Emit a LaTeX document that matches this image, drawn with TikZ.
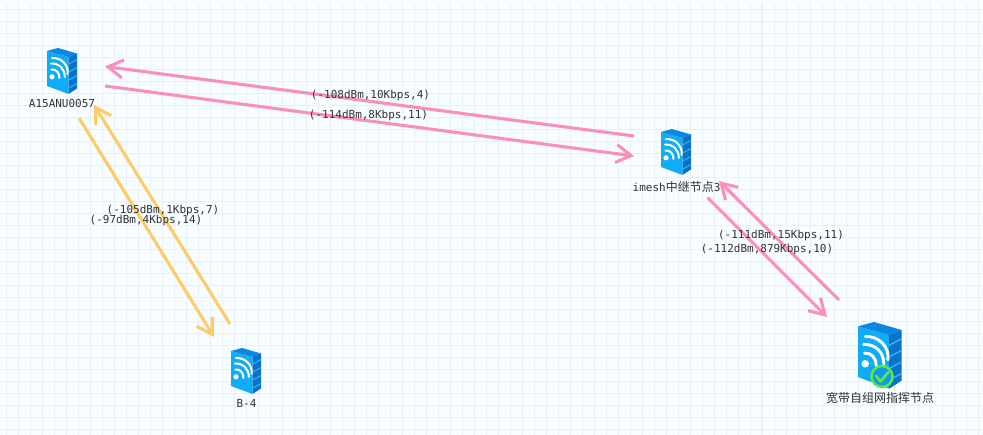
\documentclass[tikz,border=0pt]{standalone}
\usepackage{fontspec}
\setmonofont{DejaVu Sans Mono}
\newfontfamily\cjkfont{Noto Sans CJK SC}
\usetikzlibrary{arrows.meta}
\definecolor{bgpaper}{HTML}{F8FEFF}
\definecolor{gridline}{HTML}{E9EEFD}
\definecolor{gridmajor}{HTML}{E6F0FC}
\definecolor{linkpink}{HTML}{FB8FBB}
\definecolor{linkyellow}{HTML}{FECB66}
\definecolor{srvleft}{HTML}{0FADF7}
\definecolor{srvtop}{HTML}{0C86E0}
\definecolor{srvright}{HTML}{0A72C8}
\definecolor{srvband}{HTML}{3AAEF2}
\definecolor{badge}{HTML}{62E83A}
\definecolor{txt}{HTML}{333333}
\tikzset{
  x=1pt,y=-1pt,
  pinklink/.style={draw=linkpink,line width=3.1pt,-{Straight Barb[length=15pt,width=18pt,line width=3.1pt]}},
  yellowlink/.style={draw=linkyellow,line width=3.1pt,-{Straight Barb[length=15pt,width=18pt,line width=3.1pt]}},
  linklabel/.style={font=\ttfamily\fontsize{11}{11}\selectfont,text=txt,inner sep=0pt,anchor=center},
  nodelabel/.style={font=\ttfamily\fontsize{11}{11}\selectfont,text=txt,inner sep=0pt,anchor=center},
  pics/server/.style={code={
    \fill[srvleft] (0,3) -- (21.5,9) -- (21.5,46) -- (0,38) -- cycle;
    \fill[srvtop] (0,3) -- (11,0) -- (30,5.5) -- (21.5,9) -- cycle;
    \fill[srvright] (21.5,9) -- (30,5.5) -- (30,40.5) -- (21.5,46) -- cycle;
    \foreach \yy in {15.5,23.5,31.5,39.5}
      \fill[srvband] (21.5,\yy) -- (30,\yy-4.5) -- (30,\yy-3.4) -- (21.5,\yy+1.2) -- cycle;
    \fill[white] (5,28.8) circle (2.6);
    \draw[white,line width=#1,line cap=round] (4.4,21.5) .. controls (9,21) and (12.5,24.5) .. (12.5,30);
    \draw[white,line width=#1,line cap=round] (3.8,15.5) .. controls (12,15) and (18,21) .. (17.8,29);
    \draw[white,line width=#1,line cap=round] (5,10) .. controls (14,9.5) and (22,17) .. (20.6,26);
  }},
  okbadge/.style={draw=badge,line width=2.4pt},
}
\begin{document}
\begin{tikzpicture}
\useasboundingbox (0,0) rectangle (983,435);
\fill[bgpaper] (0,0) rectangle (983,435);
\foreach \gx in {6,18,...,982} \draw[gridline,line width=1pt] (\gx,3) -- (\gx,435);
\foreach \gy in {10,22,...,434} \draw[gridline,line width=1pt] (0,\gy) -- (983,\gy);
\draw[gridmajor,line width=2pt] (762,3) -- (762,435);

% link end points
\coordinate (aout) at (105,86);
\coordinate (ain) at (105,66.5);
\coordinate (iin) at (634,156);
\coordinate (iout) at (634,136);
\coordinate (adown) at (79,118);
\coordinate (aup) at (94,105);
\coordinate (bin) at (214,337);
\coordinate (bout) at (230,324);
\coordinate (idown) at (707.5,197.5);
\coordinate (iup) at (719,181);
\coordinate (win) at (827,317);
\coordinate (wout) at (839,300);

\draw[pinklink] (iout) -- (ain);
\draw[pinklink] (aout) -- (iin);
\draw[yellowlink] (adown) -- (bin);
\draw[yellowlink] (bout) -- (aup);
\draw[pinklink] (idown) -- (win);
\draw[pinklink] (wout) -- (iup);

% servers
\pic at (47,48) {server=2};
\pic at (661,129) {server=2};
\pic at (231,348) {server=2};
\pic[scale=1.45] at (858,322) {server=2.9};
\fill[srvleft!70!srvright] (882,376.5) circle (10.5);
\draw[okbadge] (882,376.5) circle (10.5);
\draw[badge,line width=2.6pt,line cap=round,line join=round] (876,376) -- (880.5,381.5) -- (888.5,372);

% labels
\node[nodelabel] (a) at (62,103.5) {A15ANU0057};
\node[nodelabel] (i) at (676.5,186.5) {imesh{\cjkfont\fontsize{12}{12}\selectfont 中继节点}3};
\node[nodelabel] (b) at (246.5,403.5) {B-4};
\node[nodelabel] (w) at (880,398) {\cjkfont\fontsize{12}{12}\selectfont 宽带自组网指挥节点};
\node[linklabel] (l1) at (370.5,95.5) {(-108dBm,10Kbps,4)};
\node[linklabel] (l2) at (368.5,115) {(-114dBm,8Kbps,11)};
\node[linklabel] (l3) at (163,210) {(-105dBm,1Kbps,7)};
\node[linklabel] (l4) at (146,220) {(-97dBm,4Kbps,14)};
\node[linklabel] (l5) at (781,235.5) {(-111dBm,15Kbps,11)};
\node[linklabel] (l6) at (767,249.5) {(-112dBm,879Kbps,10)};
\end{tikzpicture}
\end{document}
